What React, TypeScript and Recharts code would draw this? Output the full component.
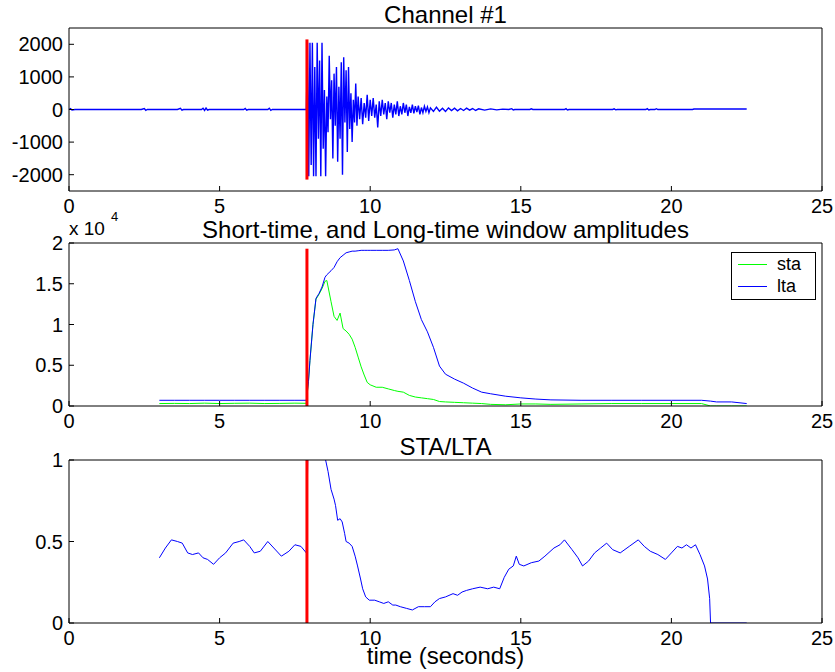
import { LineChart, Line, XAxis, YAxis, Legend } from 'recharts'

const FONT = '"Liberation Sans", Arial, Helvetica, sans-serif'
const BLUE = '#0000ff'
const GREEN = '#00ff00'
const RED = '#ff0000'
const TICK = 5

const X_TICKS = [0, 5, 10, 15, 20, 25]
const CH1_Y_TICKS = [-2000, -1000, 0, 1000, 2000]
const AMP_Y_TICKS = [0, 5000, 10000, 15000, 20000]
const RATIO_Y_TICKS = [0, 0.5, 1]
const LEGEND_ORDER = ['sta', 'lta']

// trigger marker (red vertical bar)
const pickT = [7.9, 7.9]
const pickCh1 = [-2150, 2150]
const pickAmp = [0, 19300]
const pickRatio = [0, 1]

// raw seismogram, [time, counts]
const channelTrace = [
  [0, 0], [0.05, 25], [0.1, -15], [0.2, 0], [2.4, 0], [2.5, 30], [2.55, -25], [2.6, 0],
  [3.6, 0], [3.7, 35], [3.75, -20], [3.8, 0], [4.4, 0], [4.45, 40], [4.5, -30], [4.55, 45],
  [4.6, -20], [4.65, 0], [5.8, 0], [5.85, 30], [5.9, -20], [5.95, 0], [6.6, 0], [6.65, 40],
  [6.7, -25], [6.75, 0], [7.88, 0],
  [7.92, 2050], [7.96, -2050], [8.0, 2050], [8.04, -1700], [8.08, 2050], [8.12, -2050],
  [8.16, 1300], [8.2, -2050], [8.24, 2050], [8.28, -900], [8.32, 1500], [8.36, -2050],
  [8.4, 2050], [8.44, -1200], [8.48, 600], [8.52, -2050], [8.56, 400], [8.6, -700],
  [8.64, 1650], [8.68, -300], [8.72, 900], [8.76, -1500], [8.8, 1100], [8.84, -500],
  [8.88, 1300], [8.92, -1600], [8.96, 700], [9.0, -900], [9.04, 1450], [9.08, -2000],
  [9.12, 1600], [9.16, -400], [9.2, 1200], [9.24, -1300], [9.28, 1300], [9.32, -600],
  [9.36, 500], [9.4, -1000], [9.44, 300], [9.48, -400], [9.52, 800], [9.56, -500],
  [9.6, 400], [9.65, -300], [9.7, 350], [9.75, -450], [9.8, 200], [9.85, -250],
  [9.9, 450], [9.95, -350], [10.0, 300], [10.05, -200], [10.1, 350], [10.15, -250],
  [10.2, 150], [10.25, -550], [10.3, 250], [10.35, -200], [10.4, 300], [10.45, -150],
  [10.5, 200], [10.55, -300], [10.6, 250], [10.65, -100], [10.7, 200], [10.75, -250],
  [10.8, 150], [10.85, -150], [10.9, 250], [10.95, -200], [11.0, 100], [11.05, -150],
  [11.1, 200], [11.15, -100], [11.2, 150], [11.25, -200], [11.3, 80], [11.35, -100],
  [11.4, 150], [11.45, -120], [11.5, 100], [11.55, -80], [11.6, 120], [11.65, -150],
  [11.7, 60], [11.75, -100], [11.8, 100], [11.85, -60], [11.9, 80], [11.95, -100],
  [12.0, 50], [12.1, -60], [12.2, 70], [12.3, -50], [12.4, 40], [12.5, -60], [12.6, 50],
  [12.7, -30], [12.8, 40], [12.9, -40], [13.0, 30], [13.1, -30], [13.2, 40], [13.3, -20],
  [13.4, 30], [13.5, -30], [13.6, 20], [13.8, -20], [14.0, 20], [14.2, -10], [14.4, 10],
  [14.6, 0], [14.7, 25], [14.75, -15], [14.8, 0], [15.3, 0], [15.35, 20], [15.4, 0],
  [16.45, 0], [16.5, 25], [16.55, -15], [16.6, 0], [18.05, 0], [18.1, 20], [18.15, -10],
  [18.2, 0], [19.15, 0], [19.2, 25], [19.25, -15], [19.3, 0], [19.45, 0], [19.5, 25],
  [19.55, 0], [20.7, 0], [20.75, 15], [22.5, 15],
]

// short / long window amplitudes
const ampT = [
  3, 3.5, 4, 4.5, 5, 5.5, 6, 6.5, 7, 7.5, 7.88, 7.95, 8.0, 8.1, 8.2, 8.3, 8.4, 8.5, 8.56,
  8.7, 8.8, 8.9, 9.0, 9.1, 9.2, 9.3, 9.4, 9.5, 9.6, 9.7, 9.8, 9.9, 10.0, 10.2, 10.4, 10.6,
  10.8, 10.92, 11.1, 11.3, 11.5, 11.7, 11.9, 12.1, 12.3, 12.5, 12.8, 13.1, 13.4, 13.7,
  14.0, 14.5, 15.0, 15.5, 16, 17, 18, 19, 20, 21, 21.3, 21.5, 22, 22.5,
]
const staV = [
  300, 320, 300, 350, 300, 330, 350, 300, 320, 350, 330, 3000, 5600, 10000, 13100, 13700,
  14400, 15300, 15400, 12800, 11000, 10500, 11400, 9500, 9200, 8800, 8200, 7200, 6000,
  4800, 3800, 2900, 2600, 2300, 2300, 2100, 1900, 1800, 1700, 1300, 1100, 1000, 900, 800,
  550, 500, 450, 400, 350, 300, 200, 150, 250, 250, 200, 250, 300, 300, 300, 300, 0, 0, 0, 0,
]
const ltaV = [
  700, 700, 700, 700, 700, 700, 700, 700, 700, 700, 700, 3000, 5600, 10000, 13200, 13800,
  14600, 15800, 16100, 16600, 17000, 17700, 18200, 18500, 18800, 18900, 19000, 19000, 19050,
  19100, 19100, 19100, 19100, 19100, 19100, 19100, 19150, 19300, 17800, 15400, 12800, 10600,
  9100, 7200, 4900, 3900, 3300, 2800, 2200, 1700, 1500, 1200, 1000, 850, 750, 700, 700, 700,
  700, 700, 600, 500, 500, 300,
]

// STA/LTA ratio
const ratioT = [
  3.0, 3.2, 3.4, 3.6, 3.76, 3.94, 4.1, 4.3, 4.45, 4.6, 4.8, 5.0, 5.2, 5.45, 5.65, 5.8, 6.0,
  6.15, 6.35, 6.6, 6.8, 7.05, 7.3, 7.5, 7.7, 7.88, 7.95, 8.45, 8.52, 8.6, 8.7, 8.8, 8.85,
  8.92, 9.0, 9.07, 9.15, 9.2, 9.3, 9.4, 9.5, 9.58, 9.68, 9.75, 9.85, 9.97, 10.15, 10.3,
  10.45, 10.6, 10.75, 10.85, 11.0, 11.2, 11.4, 11.6, 11.8, 12.0, 12.15, 12.3, 12.5, 12.75,
  12.9, 13.05, 13.2, 13.4, 13.65, 13.9, 14.1, 14.3, 14.45, 14.6, 14.75, 14.85, 14.95, 15.1,
  15.35, 15.6, 15.8, 16.1, 16.3, 16.45, 16.7, 16.9, 17.05, 17.25, 17.45, 17.65, 17.85,
  18.05, 18.3, 18.6, 18.9, 19.1, 19.3, 19.55, 19.8, 20.0, 20.2, 20.35, 20.5, 20.65, 20.8,
  20.95, 21.1, 21.2, 21.27, 21.3, 22.5,
]
const ratioV = [
  0.40, 0.46, 0.51, 0.50, 0.49, 0.43, 0.42, 0.43, 0.40, 0.39, 0.36, 0.40, 0.43, 0.49, 0.50,
  0.51, 0.47, 0.43, 0.44, 0.50, 0.46, 0.41, 0.44, 0.48, 0.47, 0.43, 1.3, 1.3, 1.0, 0.93,
  0.82, 0.76, 0.72, 0.63, 0.64, 0.62, 0.55, 0.50, 0.49, 0.47, 0.41, 0.35, 0.27, 0.21, 0.16,
  0.14, 0.14, 0.13, 0.12, 0.13, 0.11, 0.11, 0.10, 0.09, 0.08, 0.10, 0.10, 0.10, 0.13, 0.15,
  0.16, 0.18, 0.17, 0.19, 0.20, 0.21, 0.22, 0.21, 0.22, 0.21, 0.28, 0.33, 0.35, 0.41, 0.36,
  0.35, 0.37, 0.38, 0.41, 0.46, 0.48, 0.51, 0.45, 0.40, 0.35, 0.38, 0.43, 0.46, 0.49, 0.45,
  0.43, 0.47, 0.51, 0.47, 0.44, 0.42, 0.39, 0.43, 0.47, 0.46, 0.48, 0.46, 0.48, 0.42, 0.35,
  0.27, 0.15, 0, 0,
]

const zip = (t: number[], v: number[]) => t.map((x, i) => ({ t: x, v: v[i] }))
const channelData = channelTrace.map(([t, v]) => ({ t, v }))
const staData = zip(ampT, staV)
const ltaData = zip(ampT, ltaV)
const ratioData = zip(ratioT, ratioV)

// plot boxes: [top, bottom] in px
const P1 = [28, 191]
const P2 = [243, 406]
const P3 = [460, 623]
const W = 835
const H = 672

function BottomTick({ x, y, payload }: any) {
  return (
    <g>
      <line x1={x} x2={x} y1={y} y2={y - TICK} stroke="#000" />
      <text x={x} y={y + 22} textAnchor="middle" fontSize={20} fill="#000">
        {payload.value}
      </text>
    </g>
  )
}

function TopTick({ x, y }: any) {
  return <line x1={x} x2={x} y1={y} y2={y + TICK} stroke="#000" />
}

function RightTick({ x, y }: any) {
  return <line x1={x} x2={x - TICK} y1={y} y2={y} stroke="#000" />
}

const makeLeftTick = (fmt: (v: number) => string) =>
  function LeftTick({ x, y, payload }: any) {
    return (
      <g>
        <line x1={x} x2={x + TICK} y1={y} y2={y} stroke="#000" />
        <text x={x - 6} y={y + 7} textAnchor="end" fontSize={20} fill="#000">
          {fmt(payload.value)}
        </text>
      </g>
    )
  }

function ExpLabel({ viewBox }: any) {
  const x0 = viewBox.x + viewBox.width
  return (
    <g>
      <text x={x0} y={viewBox.y - 8} fontSize={19} fill="#000">x 10</text>
      <text x={x0 + 42} y={viewBox.y - 22} fontSize={13} fill="#000">4</text>
    </g>
  )
}

function LegendBox({ payload }: any) {
  const items = (payload || [])
    .filter((p: any) => LEGEND_ORDER.includes(p.value))
    .sort((a: any, b: any) => LEGEND_ORDER.indexOf(a.value) - LEGEND_ORDER.indexOf(b.value))
  return (
    <div
      style={{
        width: 85,
        height: 48,
        boxSizing: 'border-box',
        border: '1px solid #000',
        background: '#fff',
        position: 'relative',
      }}
    >
      {items.map((p: any, i: number) => (
        <div
          key={p.value}
          style={{ position: 'absolute', left: 6, top: 1 + i * 22.5, height: 20, display: 'flex', alignItems: 'center' }}
        >
          <span style={{ width: 29, height: 1, background: p.color, display: 'inline-block' }} />
          <span style={{ marginLeft: 10, fontSize: 18, fontFamily: FONT, color: '#000' }}>{p.value}</span>
        </div>
      ))}
    </div>
  )
}

function frame(opts: any) {
  const { title, yTicks, yDomain, yFmt, xLabel, yLabel } = opts
  return [
    <XAxis
      key="xb"
      xAxisId={0}
      type="number"
      dataKey="t"
      domain={[0, 25]}
      ticks={X_TICKS}
      interval={0}
      height={30}
      tickSize={0}
      tickMargin={0}
      tickLine={false}
      axisLine={{ stroke: '#000' }}
      tick={BottomTick}
      label={xLabel}
    />,
    <XAxis
      key="xt"
      xAxisId="top"
      orientation="top"
      type="number"
      dataKey="t"
      domain={[0, 25]}
      ticks={X_TICKS}
      interval={0}
      height={1}
      tickSize={0}
      tickMargin={0}
      tickLine={false}
      axisLine={{ stroke: '#000' }}
      tick={TopTick}
      label={{ value: title, position: 'top', offset: 4, fontSize: 24, fill: '#000' }}
    />,
    <YAxis
      key="yl"
      yAxisId={0}
      type="number"
      domain={yDomain}
      ticks={yTicks}
      interval={0}
      allowDataOverflow
      width={60}
      tickSize={0}
      tickMargin={0}
      tickLine={false}
      axisLine={{ stroke: '#000' }}
      tick={makeLeftTick(yFmt)}
      label={yLabel}
    />,
    <YAxis
      key="yr"
      yAxisId="right"
      orientation="right"
      type="number"
      domain={yDomain}
      ticks={yTicks}
      interval={0}
      width={1}
      tickSize={0}
      tickMargin={0}
      tickLine={false}
      axisLine={{ stroke: '#000' }}
      tick={RightTick}
    />,
  ]
}

const margins = (p: number[]) => ({ top: p[0] - 1, right: 12, left: 9, bottom: H - p[1] - 30 })
const layer = { position: 'absolute' as const, left: 0, top: 0 }
const series = { type: 'linear' as const, dot: false, isAnimationActive: false }

export default function App() {
  return (
    <div style={{ position: 'absolute', left: 0, top: 0, width: W, height: H, background: '#fff', fontFamily: FONT }}>
      <div style={layer}>
        <LineChart width={W} height={H} margin={margins(P1)}>
          {frame({ title: 'Channel #1', yTicks: CH1_Y_TICKS, yDomain: [-2500, 2500], yFmt: (v: number) => String(v) })}
          <Line {...series} data={channelData} dataKey="v" stroke={BLUE} strokeWidth={1.4} legendType="none" />
          <Line {...series} data={zip(pickT, pickCh1)} dataKey="v" stroke={RED} strokeWidth={3} legendType="none" />
        </LineChart>
      </div>
      <div style={layer}>
        <LineChart width={W} height={H} margin={margins(P2)}>
          {frame({
            title: 'Short-time, and Long-time window amplitudes',
            yTicks: AMP_Y_TICKS,
            yDomain: [0, 20000],
            yFmt: (v: number) => String(v / 10000),
            yLabel: { content: ExpLabel },
          })}
          <Line {...series} data={staData} name="sta" dataKey="v" stroke={GREEN} strokeWidth={1} />
          <Line {...series} data={ltaData} name="lta" dataKey="v" stroke={BLUE} strokeWidth={1} />
          <Line {...series} data={zip(pickT, pickAmp)} dataKey="v" stroke={RED} strokeWidth={3} legendType="none" />
          <Legend
            layout="vertical"
            align="center"
            verticalAlign="middle"
            content={LegendBox}
            wrapperStyle={{ left: 731, top: 252, width: 85, height: 48 }}
          />
        </LineChart>
      </div>
      <div style={layer}>
        <LineChart width={W} height={H} margin={margins(P3)}>
          {frame({
            title: 'STA/LTA',
            yTicks: RATIO_Y_TICKS,
            yDomain: [0, 1],
            yFmt: (v: number) => String(v),
            xLabel: { value: 'time (seconds)', position: 'bottom', offset: -6, fontSize: 24, fill: '#000' },
          })}
          <Line {...series} data={ratioData} dataKey="v" stroke={BLUE} strokeWidth={1} legendType="none" />
          <Line {...series} data={zip(pickT, pickRatio)} dataKey="v" stroke={RED} strokeWidth={3} legendType="none" />
        </LineChart>
      </div>
    </div>
  )
}
